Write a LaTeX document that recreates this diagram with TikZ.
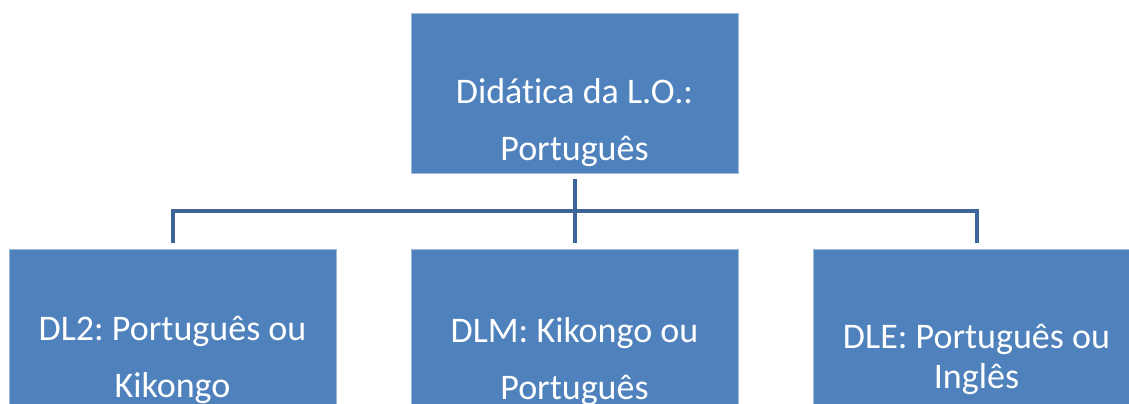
\documentclass[tikz,border=0pt]{standalone}
\usepackage{fontspec}
\setmainfont[Ligatures=NoCommon]{Carlito}
\usepackage{tikz}
\usepackage{xcolor}
\definecolor{boxblue}{HTML}{4F81BD}
\definecolor{linkblue}{HTML}{3D6599}
\frenchspacing

\begin{document}
\begin{tikzpicture}[x=0.02cm,y=-0.02cm,
			unit/.style={rectangle,fill=boxblue,draw=boxblue!55!white,line width=0.5pt,minimum width=6.54cm,minimum height=3.2cm,inner sep=0pt},
			lbl/.style={text=white,align=center,inner sep=0pt,font=\fontsize{20.5}{32.4}\selectfont},
			link/.style={draw=linkblue,line width=0.08cm,shorten <=0.12cm,shorten >=0.12cm}]
			\useasboundingbox (0,0) rectangle (1129,403);
			\clip (0,0) rectangle (1129,403);
			\node[unit] (lo) at (574.5,93) {};
			\node[unit] (dl2) at (172.5,329) {};
			\node[unit] (dlm) at (574.5,329) {};
			\node[unit] (dle) at (976.5,329) {};
			\node[lbl] (loText) at (574.5,123) {Didática da L.O.:\\Português};
			\node[lbl] (dl2Text) at (172.5,360) {DL2: Português ou\\Kikongo};
			\node[lbl] (dlmText) at (574.5,362) {DLM: Kikongo ou\\Português};
			\node[lbl,font=\fontsize{20.5}{22.8}\selectfont] (dleText) at (976.5,359) {DLE: Português ou\\Inglês};
			\coordinate (bus) at (574.5,210.7);
			\draw[link] (lo.south) -- (dlm.north);
			\draw[link] (dl2.north) |- (bus) -| (dle.north);
		\end{tikzpicture}
\end{document}
